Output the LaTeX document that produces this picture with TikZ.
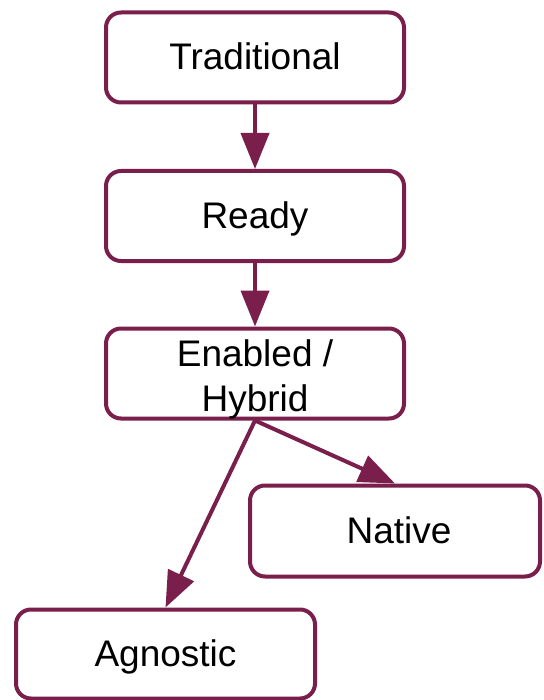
\documentclass[tikz,border=0pt]{standalone}
\usepackage{fontspec}
\setmainfont{Liberation Sans}
\usetikzlibrary{arrows.meta}
\definecolor{maroon}{HTML}{7A1E4B}
\begin{document}
\begin{tikzpicture}[x=1pt,y=-1pt,
  txt/.style={align=center, inner sep=0pt, font=\fontsize{37}{45}\selectfont, text=black},
  box/.style={txt, draw=maroon, line width=4pt, rounded corners=15pt, fill=white,
    minimum width=298pt, minimum height=90pt, text height=27pt, text depth=2pt},
  link/.style={draw=maroon, line width=4pt, -{Triangle[length=36pt,width=28pt]}}]
\useasboundingbox (0,0) rectangle (543,700);
\node[box] (trad) at (255,57.5) {Traditional};
\node[box] (ready) at (255,216) {Ready};
\node[box] (enab) at (255,373.5) {};
\node[txt, yshift=-6pt] (enabtext) at (enab.center) {Enabled /\\Hybrid};
\node[box, minimum width=290pt, minimum height=91pt] (native) at (395,531) {\hspace*{8pt}Native};
\node[box, minimum width=299pt, minimum height=89pt] (agn) at (165.5,654) {Agnostic};
\draw[link] (trad.south) -- (ready.north);
\draw[link] (ready.south) -- (enab.north);
\draw[link] (enab.south) -- (native.north);
\draw[link] (enab.south) -- (agn.north);
\end{tikzpicture}
\end{document}
